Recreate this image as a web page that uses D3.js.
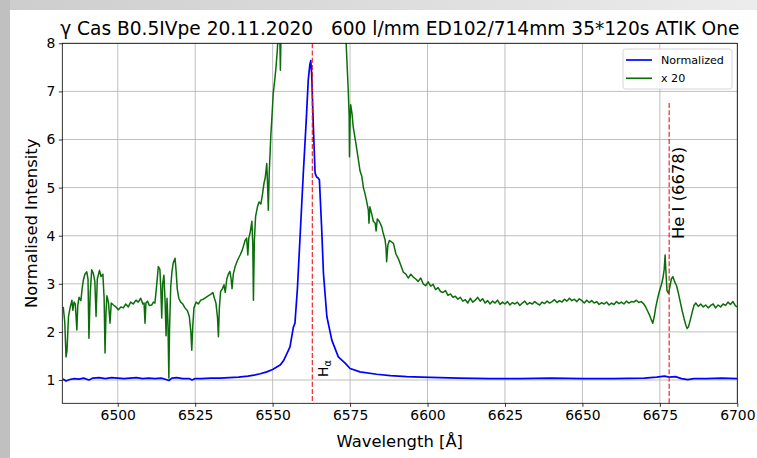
<!DOCTYPE html>
<html>
<head>
<meta charset="utf-8">
<script src="https://cdn.jsdelivr.net/npm/d3@7"></script>
<style>
  body { margin: 0; background: #fff; }
  svg { display: block; font-family: "DejaVu Sans", sans-serif; }
</style>
</head>
<body>
<svg id="chart" width="757" height="458"></svg>
<script>
// γ Cas, Hα region: normalised spectrum and the same spectrum stretched x20
const wavelengthNorm = [
  6482.3, 6483.3, 6484.5, 6486.0, 6487.5, 6489.0, 6490.7, 6492.0, 6494.0, 6496.0,
  6498.0, 6500.0, 6502.0, 6504.0, 6506.0, 6508.0, 6510.0, 6512.0, 6514.0, 6515.6,
  6516.5, 6517.5, 6519.0, 6521.0, 6523.0, 6524.0, 6525.0, 6527.0, 6530.0, 6533.0,
  6536.0, 6539.0, 6542.0, 6544.0, 6546.0, 6548.1, 6550.0, 6552.4, 6553.5, 6554.6,
  6555.6, 6556.7, 6557.2, 6558.0, 6558.8, 6559.9, 6560.8, 6561.5, 6562.0, 6562.3,
  6562.6, 6563.1, 6563.7, 6564.2, 6564.7, 6565.1, 6565.8, 6566.4, 6567.5, 6569.1,
  6571.2, 6573.4, 6575.0, 6578.2, 6583.6, 6588.0, 6593.3, 6598.0, 6604.0, 6610.0,
  6620.2, 6630.0, 6640.0, 6650.0, 6660.0, 6670.0, 6674.0, 6676.5, 6678.0, 6680.0,
  6682.0, 6684.0, 6686.0, 6690.0, 6695.0, 6700.0
];
const normalized = [
  1.02, 0.98, 1.01, 1.03, 1.02, 1.04, 1.00, 1.04, 1.05, 1.03,
  1.05, 1.04, 1.03, 1.04, 1.05, 1.03, 1.04, 1.03, 1.04, 1.01,
  0.99, 1.04, 1.05, 1.03, 1.03, 1.00, 1.03, 1.03, 1.04, 1.04,
  1.05, 1.06, 1.08, 1.10, 1.13, 1.17, 1.22, 1.31, 1.40, 1.55,
  1.69, 2.10, 2.18, 2.90, 3.91, 5.30, 6.34, 7.24, 7.55, 7.64,
  7.38, 6.34, 5.30, 5.22, 5.20, 5.16, 4.19, 3.22, 2.32, 1.83,
  1.48, 1.35, 1.24, 1.17, 1.12, 1.09, 1.07, 1.06, 1.05, 1.04,
  1.03, 1.03, 1.04, 1.03, 1.03, 1.04, 1.06, 1.08, 1.06, 1.07,
  1.03, 1.01, 1.03, 1.03, 1.04, 1.03
];

const wavelengthX20 = [
  6482.4, 6482.9, 6483.3, 6483.6, 6484.1, 6484.6, 6485.2, 6485.5, 6485.9, 6486.3,
  6486.8, 6487.1, 6487.5, 6488.1, 6488.5, 6488.9, 6489.4, 6490.0, 6490.4, 6490.7,
  6491.1, 6491.6, 6492.1, 6492.6, 6493.0, 6493.4, 6494.1, 6494.6, 6495.2, 6495.6,
  6495.9, 6496.2, 6496.5, 6497.0, 6497.5, 6497.9, 6498.6, 6499.4, 6500.2, 6501.0,
  6501.8, 6502.6, 6503.4, 6504.2, 6505.0, 6505.9, 6506.6, 6507.4, 6508.1, 6508.5,
  6508.8, 6509.1, 6509.6, 6510.2, 6511.0, 6511.5, 6512.0, 6512.6, 6513.1, 6513.6,
  6513.9, 6514.2, 6514.5, 6514.9, 6515.3, 6515.6, 6515.9, 6516.2, 6516.5, 6516.7,
  6517.1, 6517.5, 6517.9, 6518.5, 6518.8, 6519.2, 6519.7, 6520.3, 6521.0, 6521.7,
  6522.5, 6523.1, 6523.6, 6523.9, 6524.2, 6524.6, 6525.3, 6526.0, 6526.8, 6527.6,
  6528.5, 6529.2, 6530.0, 6530.7, 6531.2, 6531.7, 6532.2, 6532.5, 6532.8, 6533.2,
  6533.8, 6534.3, 6534.7, 6535.2, 6535.7, 6536.2, 6536.6, 6536.9, 6537.3, 6537.9,
  6538.6, 6539.5, 6540.2, 6541.1, 6541.6, 6542.0, 6542.3, 6542.7, 6543.3, 6543.6,
  6543.8, 6544.1, 6544.5, 6545.1, 6545.6, 6546.2, 6546.7, 6547.2, 6547.6, 6548.1,
  6548.4, 6548.6, 6548.9, 6549.4, 6549.8, 6550.2, 6550.7, 6551.1, 6551.5, 6551.8,
  6552.2, 6552.5, 6552.8, 6553.5, 6555.0, 6557.0, 6559.0, 6561.0, 6562.5, 6564.0,
  6566.0, 6568.0, 6570.0, 6572.0, 6573.5, 6573.8, 6574.4, 6574.7, 6574.8, 6575.0,
  6575.2, 6575.6, 6576.0, 6576.8, 6577.7, 6578.2, 6578.8, 6579.3, 6579.8, 6580.4,
  6580.9, 6581.1, 6581.4, 6582.0, 6582.5, 6583.1, 6583.4, 6583.8, 6584.4, 6585.2,
  6585.7, 6586.3, 6586.6, 6586.8, 6587.2, 6587.7, 6588.2, 6589.0, 6589.8, 6590.6,
  6591.4, 6592.2, 6593.0, 6593.8, 6594.6, 6595.4, 6596.2, 6597.0, 6597.8, 6598.6,
  6599.4, 6600.2, 6601.0, 6601.8, 6602.6, 6603.4, 6604.2, 6605.0, 6605.8, 6606.6,
  6607.4, 6608.2, 6609.0, 6609.8, 6610.6, 6611.4, 6612.2, 6613.0, 6613.8, 6614.6,
  6615.4, 6616.2, 6617.0, 6617.8, 6618.6, 6619.4, 6620.2, 6621.0, 6621.8, 6622.6,
  6623.4, 6624.2, 6625.0, 6625.8, 6626.6, 6627.4, 6628.2, 6629.0, 6629.8, 6630.6,
  6631.4, 6632.2, 6633.0, 6633.8, 6634.6, 6635.4, 6636.2, 6637.0, 6637.8, 6638.6,
  6639.4, 6640.2, 6641.0, 6641.8, 6642.6, 6643.4, 6644.2, 6645.0, 6645.8, 6646.6,
  6647.4, 6648.2, 6649.0, 6649.8, 6650.6, 6651.4, 6652.2, 6653.0, 6653.8, 6654.6,
  6655.4, 6656.2, 6657.0, 6657.8, 6658.6, 6659.4, 6660.2, 6661.0, 6661.8, 6662.6,
  6663.4, 6664.2, 6665.0, 6665.8, 6666.6, 6667.4, 6668.2, 6669.0, 6669.8, 6670.4,
  6671.0, 6671.6, 6672.2, 6672.7, 6673.2, 6673.7, 6674.3, 6674.9, 6675.5, 6676.0,
  6676.4, 6676.7, 6677.0, 6677.3, 6677.8, 6678.3, 6678.7, 6679.2, 6679.8, 6680.4,
  6681.0, 6681.6, 6682.2, 6682.8, 6683.4, 6683.8, 6684.2, 6684.8, 6685.4, 6686.0,
  6686.6, 6687.4, 6688.2, 6689.0, 6689.8, 6690.6, 6691.4, 6692.2, 6693.0, 6693.8,
  6694.6, 6695.4, 6696.2, 6697.0, 6697.8, 6698.6, 6699.4, 6700.0
];
const x20 = [
  2.52, 2.20, 1.48, 1.60, 2.32, 2.50, 2.66, 2.45, 2.62, 2.58,
  2.04, 2.55, 2.72, 2.65, 2.90, 3.08, 3.20, 3.25, 3.10, 1.87,
  2.80, 3.29, 3.22, 3.05, 2.32, 3.10, 3.28, 3.15, 3.20, 2.70,
  1.56, 2.40, 2.75, 2.62, 2.18, 2.60, 2.56, 2.52, 2.46, 2.52,
  2.50, 2.58, 2.52, 2.62, 2.58, 2.66, 2.62, 2.70, 2.58, 2.60,
  2.18, 2.60, 2.64, 2.55, 2.56, 2.62, 2.60, 3.00, 3.36, 3.30,
  2.90, 2.29, 3.00, 3.18, 2.60, 1.92, 2.70, 2.20, 1.04, 2.00,
  2.94, 3.25, 3.43, 3.53, 3.30, 2.90, 2.70, 2.62, 2.58, 2.50,
  2.44, 2.32, 2.00, 1.62, 2.10, 2.50, 2.62, 2.58, 2.66, 2.68,
  2.72, 2.75, 2.78, 2.82, 2.70, 2.60, 2.30, 1.90, 2.50, 2.84,
  2.90, 2.98, 2.82, 3.10, 3.20, 3.26, 3.10, 2.90, 3.20, 3.36,
  3.48, 3.60, 3.70, 3.90, 3.95, 3.60, 3.95, 4.05, 4.30, 3.80,
  2.66, 3.90, 4.40, 4.60, 4.70, 4.66, 4.85, 5.09, 5.20, 5.50,
  5.00, 4.53, 5.30, 6.06, 6.50, 6.96, 7.25, 7.51, 7.85, 8.20,
  8.60, 7.44, 8.60, 9.50, 11.0, 14.0, 19.0, 25.0, 30.0, 27.0,
  20.0, 15.0, 11.5, 9.50, 8.50, 7.90, 7.03, 6.50, 5.64, 6.40,
  6.72, 6.55, 6.27, 5.95, 5.57, 5.35, 5.23, 5.00, 4.88, 4.70,
  4.53, 4.26, 4.60, 4.45, 4.30, 4.26, 4.10, 4.35, 4.30, 4.19,
  4.05, 3.91, 3.75, 3.46, 3.80, 3.90, 3.88, 3.84, 3.62, 3.52,
  3.38, 3.24, 3.20, 3.12, 3.20, 3.14, 3.10, 3.05, 3.12, 3.00,
  2.96, 3.04, 2.95, 2.99, 2.88, 2.92, 2.84, 2.82, 2.86, 2.76,
  2.79, 2.72, 2.74, 2.68, 2.72, 2.64, 2.67, 2.60, 2.70, 2.62,
  2.66, 2.72, 2.64, 2.69, 2.60, 2.65, 2.58, 2.64, 2.60, 2.66,
  2.57, 2.62, 2.58, 2.63, 2.56, 2.61, 2.58, 2.62, 2.55, 2.60,
  2.64, 2.57, 2.61, 2.58, 2.63, 2.59, 2.56, 2.62, 2.59, 2.64,
  2.60, 2.63, 2.67, 2.61, 2.65, 2.62, 2.68, 2.64, 2.70, 2.65,
  2.68, 2.63, 2.69, 2.65, 2.60, 2.66, 2.61, 2.65, 2.60, 2.63,
  2.57, 2.61, 2.58, 2.62, 2.56, 2.60, 2.57, 2.63, 2.59, 2.62,
  2.58, 2.64, 2.60, 2.63, 2.62, 2.66, 2.61, 2.63, 2.58, 2.52,
  2.44, 2.36, 2.26, 2.18, 2.32, 2.52, 2.70, 2.86, 2.98, 3.12,
  3.30, 3.60, 3.20, 2.86, 2.80, 2.96, 3.10, 3.15, 3.04, 2.96,
  2.80, 2.62, 2.44, 2.28, 2.14, 2.07, 2.10, 2.24, 2.40, 2.55,
  2.60, 2.53, 2.58, 2.52, 2.56, 2.50, 2.55, 2.58, 2.50, 2.56,
  2.52, 2.58, 2.55, 2.62, 2.57, 2.63, 2.54, 2.52
];

const xTicks = [6500, 6525, 6550, 6575, 6600, 6625, 6650, 6675, 6700];
const yTicks = [1, 2, 3, 4, 5, 6, 7, 8];
const seriesNames = ["Normalized", "x 20"];
const lineLabels = ["H", "He I (6678)"];
const lineWavelengths = [6562.8, 6678];
const heLineTop = 6.76;
const titleText = "γ Cas B0.5IVpe 20.11.2020   600 l/mm ED102/714mm 35*120s ATIK One";

const W = 757, H = 458;
const plot = { left: 62.3, top: 43.3, right: 737.3, bottom: 403.3 };
const blue = "#0000ff", green = "#0b6e0b", red = "#e8141a";

const svg = d3.select("#chart");

// page backdrop: grey strips along the left and top edges
const defs = svg.append("defs");
const grad = defs.append("linearGradient").attr("id", "topband").attr("x1", 0).attr("x2", 1).attr("y1", 0).attr("y2", 0);
grad.append("stop").attr("offset", 0).attr("stop-color", "#cdcdcd");
grad.append("stop").attr("offset", 1).attr("stop-color", "#ececec");
svg.append("rect").attr("width", W).attr("height", H).attr("fill", "#fff");
svg.append("rect").attr("x", 0).attr("y", 0).attr("width", W).attr("height", 10).attr("fill", "url(#topband)");
svg.append("rect").attr("x", 0).attr("y", 0).attr("width", 10).attr("height", H).attr("fill", "#c0c0c0");

defs.append("clipPath").attr("id", "plotclip").append("rect")
  .attr("x", plot.left).attr("y", plot.top)
  .attr("width", plot.right - plot.left).attr("height", plot.bottom - plot.top);

const x = d3.scaleLinear().domain([6482.1, 6700]).range([plot.left, plot.right]);
const y = d3.scaleLinear().domain([0.516, 8]).range([plot.bottom, plot.top]);

// grid
const grid = svg.append("g").attr("stroke", "#b0b0b0").attr("stroke-width", 0.8);
grid.selectAll("line.gx").data(xTicks).join("line").attr("class", "gx")
  .attr("x1", d => x(d)).attr("x2", d => x(d)).attr("y1", plot.top).attr("y2", plot.bottom);
grid.selectAll("line.gy").data(yTicks).join("line").attr("class", "gy")
  .attr("x1", plot.left).attr("x2", plot.right).attr("y1", d => y(d)).attr("y2", d => y(d));

const plotArea = svg.append("g").attr("clip-path", "url(#plotclip)");

const lineGen = d3.line().x(d => x(d[0])).y(d => y(d[1]));
const normPts = wavelengthNorm.map((w, i) => [w, normalized[i]]);
const x20Pts = wavelengthX20.map((w, i) => [w, x20[i]]);

plotArea.append("path").datum(normPts).attr("d", lineGen)
  .attr("fill", "none").attr("stroke", blue).attr("stroke-width", 1.7).attr("stroke-linejoin", "round");
plotArea.append("path").datum(x20Pts).attr("d", lineGen)
  .attr("fill", "none").attr("stroke", green).attr("stroke-width", 1.5).attr("stroke-linejoin", "round");

// line identifications
plotArea.append("line")
  .attr("x1", x(lineWavelengths[0])).attr("x2", x(lineWavelengths[0]))
  .attr("y1", plot.top).attr("y2", plot.bottom)
  .attr("stroke", red).attr("stroke-width", 1.1).attr("stroke-dasharray", "5,2.2");
plotArea.append("line")
  .attr("x1", x(lineWavelengths[1])).attr("x2", x(lineWavelengths[1]))
  .attr("y1", y(heLineTop)).attr("y2", plot.bottom)
  .attr("stroke", red).attr("stroke-width", 1.1).attr("stroke-dasharray", "5,2.2");

const ha = svg.append("text")
  .attr("transform", `translate(${x(lineWavelengths[0]) + 15.5},377) rotate(-90)`)
  .attr("font-size", 13.9).attr("fill", "#000");
ha.append("tspan").text(lineLabels[0]);
ha.append("tspan").attr("dy", 3).attr("font-size", 9.7).text("α");

svg.append("text")
  .attr("transform", `translate(${x(lineWavelengths[1]) + 15},239) rotate(-90)`)
  .attr("font-size", 16.4).attr("fill", "#000").text(lineLabels[1]);

// axes
const xAxis = d3.axisBottom(x).tickValues(xTicks).tickSize(3.5).tickPadding(3.5).tickFormat(d3.format("d"));
const yAxis = d3.axisLeft(y).tickValues(yTicks).tickSize(3.5).tickPadding(3.5).tickFormat(d3.format("d"));
const gx = svg.append("g").attr("transform", `translate(0,${plot.bottom})`).call(xAxis);
const gy = svg.append("g").attr("transform", `translate(${plot.left},0)`).call(yAxis);
[gx, gy].forEach(g => {
  g.select(".domain").remove();
  g.selectAll(".tick line").attr("stroke", "#000").attr("stroke-width", 0.8);
  g.selectAll(".tick text").attr("font-size", 13.9).attr("font-family", "DejaVu Sans").attr("fill", "#000");
});
svg.append("rect")
  .attr("x", plot.left).attr("y", plot.top)
  .attr("width", plot.right - plot.left).attr("height", plot.bottom - plot.top)
  .attr("fill", "none").attr("stroke", "#000").attr("stroke-width", 0.8);

// titles
svg.append("text").attr("x", (plot.left + plot.right) / 2).attr("y", 35)
  .attr("text-anchor", "middle").attr("font-size", 18.6).attr("fill", "#000")
  .attr("xml:space", "preserve").style("white-space", "pre").text(titleText);
svg.append("text").attr("x", (plot.left + plot.right) / 2).attr("y", 447)
  .attr("text-anchor", "middle").attr("font-size", 16.4).attr("fill", "#000").text("Wavelength [Å]");
svg.append("text")
  .attr("transform", `translate(37,${(plot.top + plot.bottom) / 2}) rotate(-90)`)
  .attr("text-anchor", "middle").attr("font-size", 16.4).attr("fill", "#000").text("Normalised Intensity");

// legend
const leg = svg.append("g");
leg.append("rect").attr("x", 623).attr("y", 49).attr("width", 109).attr("height", 40).attr("rx", 2.5)
  .attr("fill", "#fff").attr("fill-opacity", 0.8).attr("stroke", "#cccccc").attr("stroke-width", 0.8);
[blue, green].forEach((c, i) => {
  const cy = 60 + i * 18.3;
  leg.append("line").attr("x1", 626).attr("x2", 652).attr("y1", cy).attr("y2", cy)
    .attr("stroke", c).attr("stroke-width", 1.7);
  leg.append("text").attr("x", 661).attr("y", cy + 4).attr("font-size", 11.1).attr("fill", "#000").text(seriesNames[i]);
});
</script>
</body>
</html>
